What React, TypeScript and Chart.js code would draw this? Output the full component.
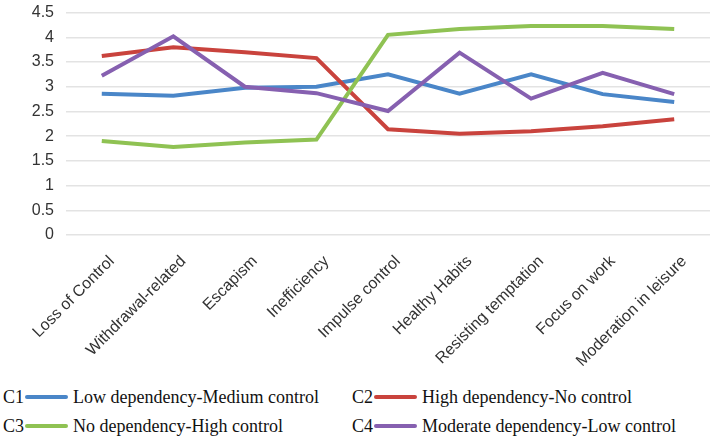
import React, { useEffect, useRef } from "react";
import { Chart, registerables } from "chart.js";

Chart.register(...registerables);

const categories = [
  "Loss of Control",
  "Withdrawal-related",
  "Escapism",
  "Inefficiency",
  "Impulse control",
  "Healthy Habits",
  "Resisting temptation",
  "Focus on work",
  "Moderation in leisure",
];

const c1Values = [2.86, 2.82, 2.98, 3.0, 3.25, 2.86, 3.25, 2.85, 2.69];
const c2Values = [3.62, 3.8, 3.7, 3.58, 2.14, 2.05, 2.1, 2.2, 2.34];
const c3Values = [1.9, 1.78, 1.87, 1.93, 4.05, 4.17, 4.23, 4.23, 4.17];
const c4Values = [3.22, 4.02, 3.0, 2.87, 2.51, 3.69, 2.76, 3.28, 2.85];

const seriesCodes = ["C1", "C2", "C3", "C4"];
const seriesNames = [
  "Low dependency-Medium control",
  "High dependency-No control",
  "No dependency-High control",
  "Moderate dependency-Low control",
];
const seriesColors = ["#4a86c8", "#c9433d", "#8fc253", "#8660b0"];

const yMin = 0;
const yMax = 4.5;
const yStep = 0.5;

export default function App() {
  const canvasRef = useRef<HTMLCanvasElement | null>(null);

  useEffect(() => {
    if (!canvasRef.current) return;
    const values = [c1Values, c2Values, c3Values, c4Values];
    const chart = new Chart(canvasRef.current, {
      type: "line",
      data: {
        labels: categories,
        datasets: values.map((v, i) => ({
          label: seriesNames[i],
          data: v,
          borderColor: seriesColors[i],
          backgroundColor: seriesColors[i],
          borderWidth: 4,
          pointRadius: 0,
          tension: 0,
          order: 4 - i,
        })),
      },
      options: {
        responsive: false,
        animation: false,
        devicePixelRatio: 1,
        layout: { padding: { top: 2, right: 5, left: 0, bottom: 0 } },
        plugins: { legend: { display: false }, tooltip: { enabled: false } },
        scales: {
          x: {
            offset: true,
            grid: { display: false },
            border: { display: false },
            ticks: {
              minRotation: 45,
              maxRotation: 45,
              autoSkip: false,
              color: "#333",
              padding: 9,
              labelOffset: 10,
              font: { family: "'Liberation Sans', Arial, sans-serif", size: 16 },
            },
            afterFit: (scale: any) => {
              scale.height = 150;
            },
          },
          y: {
            min: yMin,
            max: yMax,
            border: { display: false },
            grid: { color: "#e3e3e3", lineWidth: 1.5, drawTicks: false },
            ticks: {
              stepSize: yStep,
              color: "#333",
              padding: 12,
              font: { family: "'Liberation Sans', Arial, sans-serif", size: 16 },
              callback: (v: any) => String(Number(v)),
            },
            afterFit: (scale: any) => {
              scale.width = 66;
            },
          },
        },
      },
    });
    return () => chart.destroy();
  }, []);

  const legendPos = [
    { left: 3, top: 385 },
    { left: 352, top: 385 },
    { left: 3, top: 414 },
    { left: 352, top: 414 },
  ];

  return (
    <div style={{ position: "absolute", left: 0, top: 0, width: 715, height: 440, background: "#fff", overflow: "hidden" }}>
      <canvas
        ref={canvasRef}
        width={715}
        height={394}
        style={{ display: "block", position: "absolute", left: 0, top: -9 }}
      />
      {seriesCodes.map((code, i) => (
        <div
          key={code}
          style={{
            position: "absolute",
            left: legendPos[i].left,
            top: legendPos[i].top,
            height: 24,
            display: "flex",
            alignItems: "center",
            fontFamily: "'Liberation Serif', 'Times New Roman', serif",
            fontSize: 18,
            color: "#111",
            whiteSpace: "nowrap",
          }}
        >
          <span>{code}</span>
          <span
            style={{
              display: "inline-block",
              width: 43,
              height: 4,
              borderRadius: 2,
              background: seriesColors[i],
              margin: "0 5px 0 1px",
            }}
          />
          <span>{seriesNames[i]}</span>
        </div>
      ))}
    </div>
  );
}
